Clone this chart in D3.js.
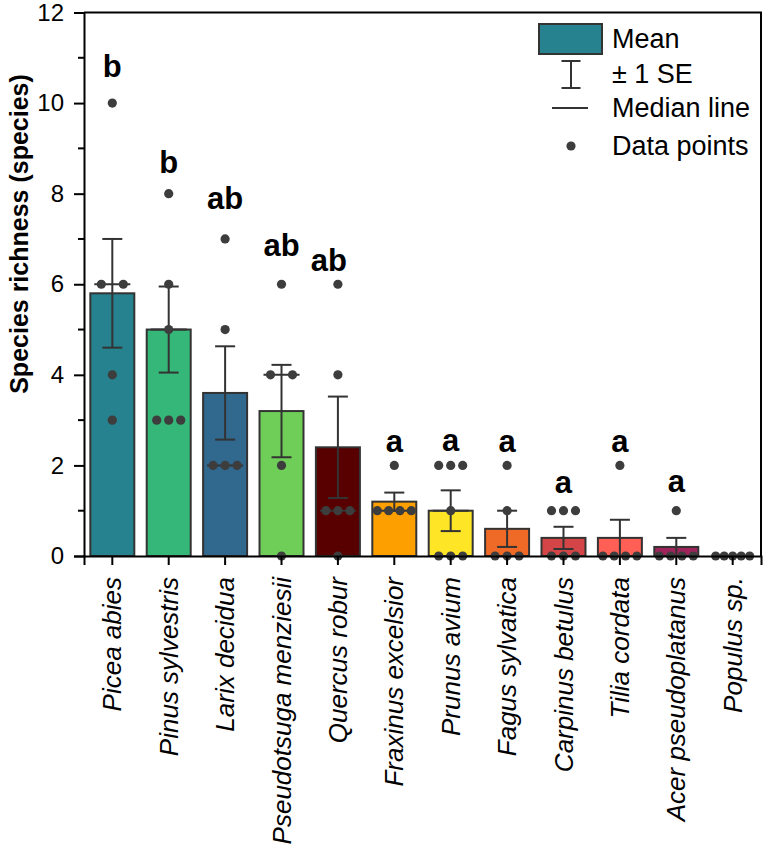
<!DOCTYPE html>
<html>
<head>
<meta charset="utf-8">
<script src="https://cdn.jsdelivr.net/npm/d3@7"></script>
<style>
  body { margin: 0; background: #fff; }
  text { font-family: "Liberation Sans", Arial, sans-serif; }
  .y-axis .tick text { font-size: 24px; fill: #000; }
</style>
</head>
<body>
<div id="chart"></div>
<script>
// Species (x categories)
const species = [
  "Picea abies", "Pinus sylvestris", "Larix decidua", "Pseudotsuga menziesii",
  "Quercus robur", "Fraxinus excelsior", "Prunus avium", "Fagus sylvatica",
  "Carpinus betulus", "Tilia cordata", "Acer pseudoplatanus", "Populus sp."
];

// Mean, standard error and median
const means   = [5.8, 5.0, 3.6, 3.2, 2.4, 1.2, 1.0, 0.6, 0.4, 0.4, 0.2, 0];
const se      = [1.2, 0.95, 1.03, 1.02, 1.12, 0.2, 0.45, 0.4, 0.245, 0.4, 0.2, 0];
const medians = [6, 5, 2, 4, 1, 1, 1, 0, 0, 0, 0, 0];

// Individual data points as drawn
const points = [
  [10, 6, 6, 4, 3],
  [8, 6, 5, 3, 3, 3],
  [7, 5, 2, 2, 2],
  [6, 4, 4, 2, 0],
  [6, 4, 1, 1, 1, 0],
  [2, 1, 1, 1, 1],
  [2, 2, 2, 1, 0, 0, 0],
  [2, 1, 0, 0, 0],
  [1, 1, 1, 0, 0, 0],
  [2, 0, 0, 0, 0],
  [1, 0, 0, 0, 0],
  [0, 0, 0, 0, 0]
];

// Significance letters and the height (in y units) of their baseline
const letters = ["b", "b", "ab", "ab", "ab", "a", "a", "a", "a", "a", "a", ""];
const letterY = [10.58, 8.46, 7.67, 6.63, 6.3, 2.3, 2.32, 2.29, 1.39, 2.29, 1.42, 0];

const colors = [
  "#26828e", "#35b779", "#31688e", "#6ece58", "#580000", "#fe9f00",
  "#fee526", "#ee6a26", "#d34546", "#ff5f55", "#a0245c", "#888888"
];

const yTicks = [0, 2, 4, 6, 8, 10, 12];
const legendItems = ["Mean", "\u00b1 1 SE", "Median line", "Data points"];

const width = 765;
const height = 848;
const margin = { top: 12.5, right: 4, bottom: 292, left: 84 };
const lineColor = "#333";
const dotColor = "#3d3d3d";

const svg = d3.select("#chart").append("svg")
    .attr("width", width)
    .attr("height", height);

const x = d3.scaleBand()
    .domain(species)
    .range([margin.left, width - margin.right])
    .paddingInner(0.22)
    .paddingOuter(0.112);

const y = d3.scaleLinear()
    .domain([0, 12])
    .range([height - margin.bottom, margin.top]);

const cx = i => x(species[i]) + x.bandwidth() / 2;

// Bars
svg.append("g")
  .selectAll("rect")
  .data(means)
  .enter().append("rect")
    .attr("x", (d, i) => x(species[i]))
    .attr("y", d => y(d))
    .attr("width", x.bandwidth())
    .attr("height", d => y(0) - y(d))
    .attr("fill", (d, i) => colors[i])
    .attr("stroke", lineColor)
    .attr("stroke-width", 2)
    .style("display", d => d > 0 ? null : "none");

// Median lines
svg.append("g")
  .selectAll("line")
  .data(medians)
  .enter().append("line")
    .attr("x1", (d, i) => cx(i) - 18)
    .attr("x2", (d, i) => cx(i) + 18)
    .attr("y1", d => y(d))
    .attr("y2", d => y(d))
    .attr("stroke", lineColor)
    .attr("stroke-width", 2);

// Error bars (+/- 1 SE)
const err = svg.append("g")
    .attr("stroke", lineColor)
    .attr("stroke-width", 2);
means.forEach((m, i) => {
  if (se[i] === 0) return;
  const lo = y(m - se[i]), hi = y(m + se[i]);
  err.append("line").attr("x1", cx(i)).attr("x2", cx(i)).attr("y1", lo).attr("y2", hi);
  err.append("line").attr("x1", cx(i) - 10).attr("x2", cx(i) + 10).attr("y1", hi).attr("y2", hi);
  err.append("line").attr("x1", cx(i) - 10).attr("x2", cx(i) + 10).attr("y1", lo).attr("y2", lo);
});

// Data points, spread sideways when values repeat
const swarmWidth = [0, 0, 22, 24, 34, 34, 34, 34];
const dots = [];
points.forEach((vals, i) => {
  const groups = d3.group(vals, v => v);
  groups.forEach((arr, v) => {
    const n = arr.length;
    const w = swarmWidth[Math.min(n, swarmWidth.length - 1)];
    arr.forEach((_, k) => {
      const off = n > 1 ? -w / 2 + k * w / (n - 1) : 0;
      dots.push({ x: cx(i) + off, v: v });
    });
  });
});
svg.append("g")
  .selectAll("circle")
  .data(dots)
  .enter().append("circle")
    .attr("cx", d => d.x)
    .attr("cy", d => y(d.v))
    .attr("r", 4.6)
    .attr("fill", dotColor);

// Significance letters
const letterShift = { "Quercus robur": -9 };
svg.append("g")
  .selectAll("text")
  .data(letters)
  .enter().append("text")
    .attr("x", (d, i) => cx(i) + (letterShift[species[i]] || 0))
    .attr("y", (d, i) => y(letterY[i]))
    .attr("text-anchor", "middle")
    .attr("font-size", 31)
    .attr("font-weight", "bold")
    .text(d => d);

// Frame (top and right)
svg.append("path")
    .attr("d", `M${margin.left},${margin.top}H${width - margin.right}V${y(0)}`)
    .attr("fill", "none")
    .attr("stroke", "#000")
    .attr("stroke-width", 2);

// Y axis
const yAxis = svg.append("g")
    .attr("class", "y-axis")
    .attr("transform", `translate(${margin.left},0)`)
    .call(d3.axisLeft(y).tickValues(yTicks).tickSize(10).tickPadding(10).tickFormat(d3.format("d")));
yAxis.select(".domain").attr("stroke-width", 2);
yAxis.selectAll(".tick line").attr("stroke-width", 2);

// Minor y ticks
svg.append("g")
  .selectAll("line")
  .data(d3.range(1, 12, 2))
  .enter().append("line")
    .attr("x1", margin.left - 6)
    .attr("x2", margin.left)
    .attr("y1", d => y(d))
    .attr("y2", d => y(d))
    .attr("stroke", "#000")
    .attr("stroke-width", 2);

// X axis
const xAxis = svg.append("g")
    .attr("transform", `translate(0,${y(0)})`)
    .call(d3.axisBottom(x).tickSize(9).tickFormat(""));
xAxis.select(".domain").attr("stroke-width", 2);
xAxis.selectAll(".tick line").attr("stroke-width", 2);

svg.append("g")
  .selectAll("text")
  .data(species)
  .enter().append("text")
    .attr("transform", (d, i) => `translate(${cx(i)},577) rotate(-90)`)
    .attr("dy", "0.35em")
    .attr("text-anchor", "end")
    .attr("font-size", 26)
    .attr("font-style", "italic")
    .text(d => d);

// Y axis title
svg.append("text")
    .attr("transform", "translate(19,234) rotate(-90)")
    .attr("dy", "0.35em")
    .attr("text-anchor", "middle")
    .attr("font-size", 25)
    .attr("font-weight", "bold")
    .text("Species richness (species)");

// Legend
const legend = svg.append("g");
const lgX = 571, lgText = 612, rowY = [39, 74, 108, 146];
legend.append("rect")
    .attr("x", 539).attr("y", 24).attr("width", 63).attr("height", 30)
    .attr("fill", colors[0]).attr("stroke", lineColor).attr("stroke-width", 2);
const lgSE = legend.append("g").attr("stroke", lineColor).attr("stroke-width", 2);
lgSE.append("line").attr("x1", lgX).attr("x2", lgX).attr("y1", 61).attr("y2", 88);
lgSE.append("line").attr("x1", lgX - 9.5).attr("x2", lgX + 9.5).attr("y1", 61).attr("y2", 61);
lgSE.append("line").attr("x1", lgX - 9.5).attr("x2", lgX + 9.5).attr("y1", 88).attr("y2", 88);
legend.append("line")
    .attr("x1", 552).attr("x2", 588).attr("y1", rowY[2]).attr("y2", rowY[2])
    .attr("stroke", lineColor).attr("stroke-width", 2);
legend.append("circle")
    .attr("cx", lgX).attr("cy", rowY[3]).attr("r", 4.6).attr("fill", dotColor);
legend.selectAll("text.lg")
  .data(legendItems)
  .enter().append("text")
    .attr("class", "lg")
    .attr("x", lgText)
    .attr("y", (d, i) => rowY[i])
    .attr("dy", "0.35em")
    .attr("font-size", 27)
    .text(d => d);
</script>
</body>
</html>
